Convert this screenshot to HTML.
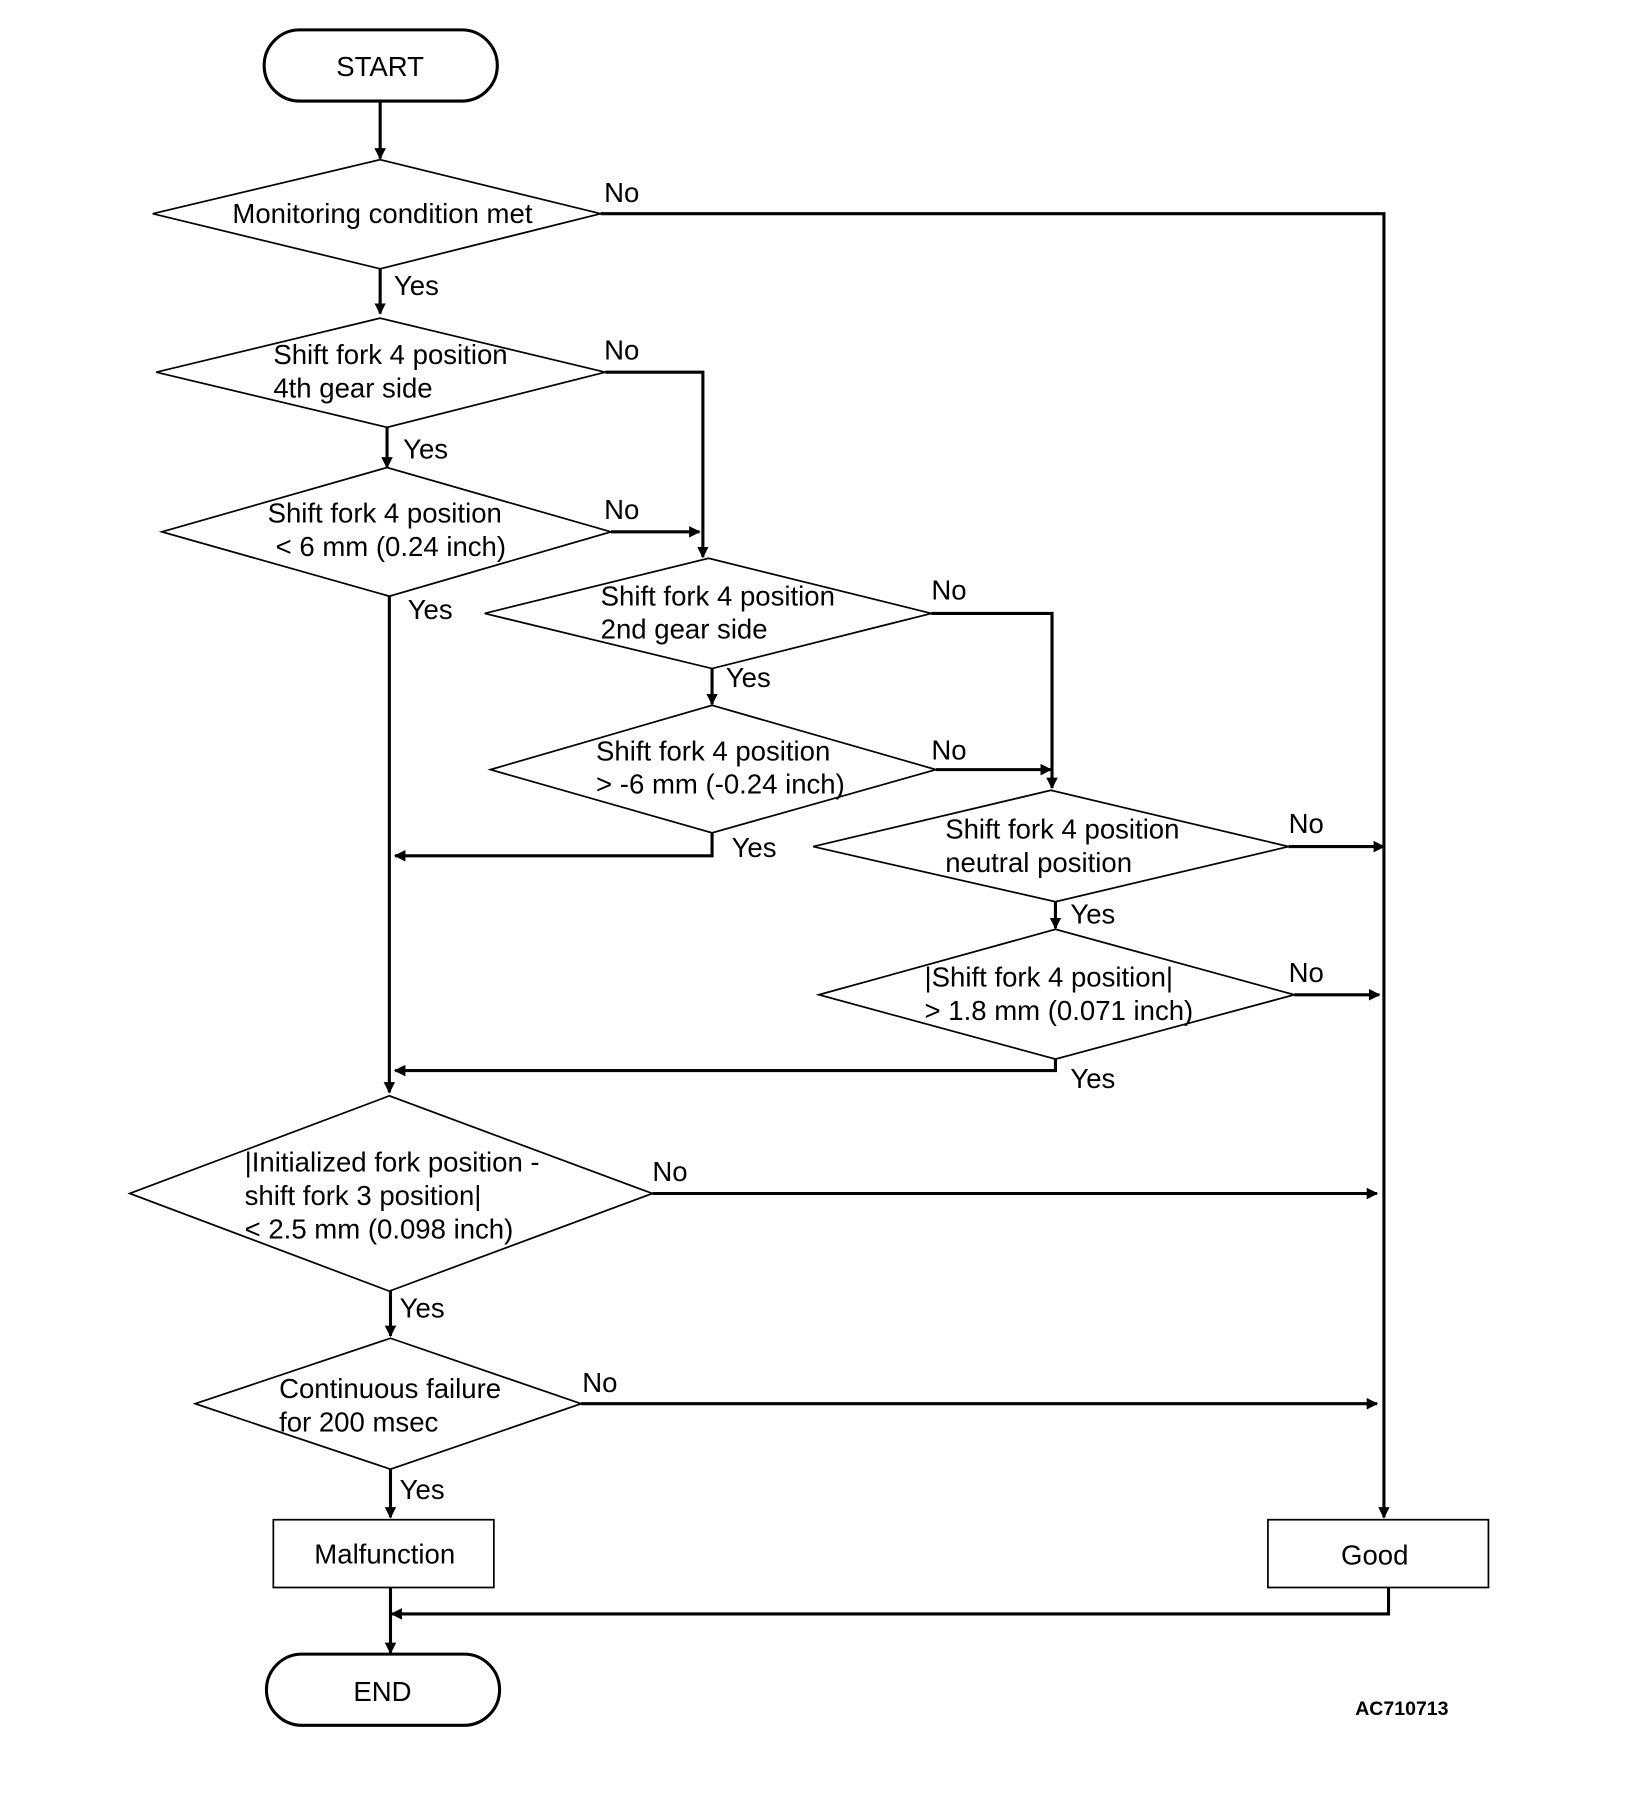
<!DOCTYPE html>
<html><head><meta charset="utf-8"><style>
html,body{margin:0;padding:0;background:#fff;}
svg{display:block;}
text{font-family:"Liberation Sans",Arial,sans-serif;font-size:24px;fill:#000;}
</style></head><body>
<svg width="1632" height="1800" viewBox="0 0 1421 1567" preserveAspectRatio="none" xmlns="http://www.w3.org/2000/svg">
<defs><marker id="a" markerWidth="10" markerHeight="10" refX="9" refY="5" orient="auto" markerUnits="userSpaceOnUse"><path d="M0,0 L10,5 L0,10 Z" fill="#000"/></marker></defs>
<g fill="none" stroke="#000" stroke-width="2.7">
<rect x="230" y="26" width="203" height="62" rx="31"/>
<rect x="232" y="1440" width="203" height="62" rx="31"/>
<rect x="238" y="1323" width="192" height="59" stroke-width="1.5"/>
<rect x="1104" y="1323" width="192" height="59" stroke-width="1.5"/>
<g stroke-width="1.5">
<polygon points="133,186 331,139 523,186 331,234"/>
<polygon points="136,324 331,277 527,324 337,372"/>
<polygon points="141,463 337,407 532,463 339,519"/>
<polygon points="422,534 617,486 811,534 620,582"/>
<polygon points="427,670 620,614 815,670 620,725"/>
<polygon points="708,737 915,688 1122,737 919,785"/>
<polygon points="713,866 919,809 1127,866 919,922"/>
<polygon points="113,1039 339,954 568,1039 339,1124"/>
<polygon points="170,1222 340,1165 506,1222 340,1279"/>
</g>
<g marker-end="url(#a)">
<path d="M331,88 V138"/>
<path d="M523,186 H1205 V1321"/>
<path d="M331,234 V273"/>
<path d="M527,324 H612 V485"/>
<path d="M337,372 V407"/>
<path d="M532,463 H609"/>
<path d="M339,519 V951"/>
<path d="M811,534 H916 V686"/>
<path d="M620,582 V613"/>
<path d="M815,670 H915"/>
<path d="M620,725 V745 H344"/>
<path d="M1122,737 H1205"/>
<path d="M919,785 V808"/>
<path d="M1127,866 H1201"/>
<path d="M919,922 V932 H344"/>
<path d="M568,1039 H1199"/>
<path d="M340,1124 V1163"/>
<path d="M506,1222 H1199"/>
<path d="M340,1279 V1321"/>
<path d="M340,1382 V1439"/>
<path d="M1209,1382 V1405 H341"/>
</g>
</g>
<text x="331" y="66" text-anchor="middle">START</text>
<text x="333" y="1481" text-anchor="middle">END</text>
<text x="335" y="1361" text-anchor="middle">Malfunction</text>
<text x="1197" y="1362" text-anchor="middle">Good</text>
<text x="333" y="194" text-anchor="middle">Monitoring condition met</text>
<text x="238" y="317">Shift fork 4 position</text><text x="238" y="346">4th gear side</text>
<text x="233" y="455">Shift fork 4 position</text><text x="240" y="484">&lt; 6 mm (0.24 inch)</text>
<text x="523" y="527">Shift fork 4 position</text><text x="523" y="556">2nd gear side</text>
<text x="519" y="662">Shift fork 4 position</text><text x="519" y="691">&gt; -6 mm (-0.24 inch)</text>
<text x="823" y="730">Shift fork 4 position</text><text x="823" y="759">neutral position</text>
<text x="805" y="859">|Shift fork 4 position|</text><text x="805" y="888">&gt; 1.8 mm (0.071 inch)</text>
<text x="213" y="1020">|Initialized fork position -</text><text x="213" y="1049">shift fork 3 position|</text><text x="213" y="1078">&lt; 2.5 mm (0.098 inch)</text>
<text x="243" y="1217">Continuous failure</text><text x="243" y="1246">for 200 msec</text>
<text x="526" y="176">No</text><text x="343" y="257">Yes</text>
<text x="526" y="313">No</text><text x="351" y="399">Yes</text>
<text x="526" y="452">No</text><text x="355" y="539">Yes</text>
<text x="811" y="522">No</text><text x="632" y="598">Yes</text>
<text x="811" y="661">No</text><text x="637" y="746">Yes</text>
<text x="1122" y="725">No</text><text x="932" y="804">Yes</text>
<text x="1122" y="855">No</text><text x="932" y="947">Yes</text>
<text x="568" y="1028">No</text><text x="348" y="1147">Yes</text>
<text x="507" y="1212">No</text><text x="348" y="1305">Yes</text>
<text x="1180" y="1493" style="font-size:17px;font-weight:bold">AC710713</text>
</svg>
</body></html>
